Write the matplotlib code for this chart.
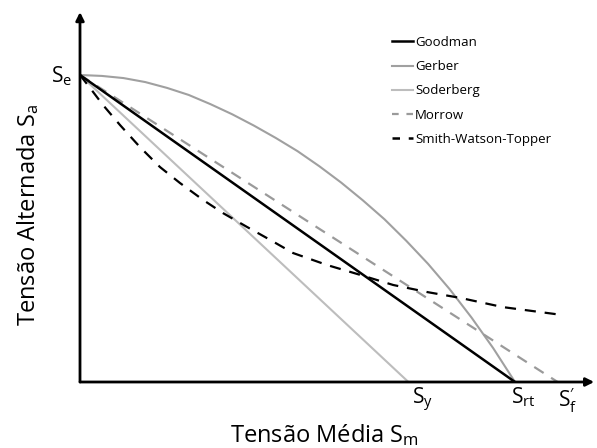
import matplotlib
matplotlib.use("Agg")
from matplotlib import pyplot as plt
from matplotlib.lines import Line2D

plt.rcParams['font.family'] = ['Open Sans', 'DejaVu Sans']
plt.rcParams['mathtext.fontset'] = 'custom'
plt.rcParams['mathtext.rm'] = 'Open Sans'
plt.rcParams['mathtext.it'] = 'Open Sans:italic'

# Sm / Srt on x, Sa / Se on y
Se = 1.0
Srt = 1.0
Sy = 0.755
Sf = 1.098

goodman_x = [0, Srt]
goodman_y = [Se, 0]

soderberg_x = [0, Sy]
soderberg_y = [Se, 0]

morrow_x = [0, Sf]
morrow_y = [Se, 0]

gerber_x = [0, 0.05, 0.1, 0.15, 0.2, 0.25, 0.3, 0.35, 0.4, 0.45, 0.5,
            0.55, 0.6, 0.65, 0.7, 0.75, 0.8, 0.85, 0.9, 0.95, 1.0]
gerber_y = [1.0, 0.997, 0.99, 0.977, 0.958, 0.935, 0.905, 0.872, 0.835, 0.795, 0.752,
            0.703, 0.65, 0.592, 0.53, 0.46, 0.385, 0.302, 0.21, 0.11, 0.0]

swt_x = [0, 0.023, 0.053, 0.092, 0.138, 0.184, 0.23, 0.283, 0.329, 0.384,
         0.437, 0.49, 0.568, 0.644, 0.72, 0.798, 0.874, 0.972, 1.11]
swt_y = [1.0, 0.958, 0.902, 0.837, 0.765, 0.70, 0.648, 0.593, 0.55, 0.505,
         0.463, 0.42, 0.381, 0.349, 0.316, 0.293, 0.274, 0.244, 0.218]

labels = ['Goodman', 'Gerber', 'Soderberg', 'Morrow', 'Smith-Watson-Topper']

W, H = 597, 448
fig = plt.figure(figsize=(W / 100, H / 100), dpi=100)
ax = fig.add_axes([80 / W, 66 / H, 517 / W, 372 / H])
ax.set_xlim(0, 517 / 435)
ax.set_ylim(0, 372 / 307)
ax.axis('off')

ax.plot(gerber_x, gerber_y, color='#a0a0a0', lw=1.5, solid_joinstyle='round')
ax.plot(soderberg_x, soderberg_y, color='#bdbdbd', lw=1.5)
ax.plot(morrow_x, morrow_y, color='#9a9a9a', lw=1.6, linestyle=(0, (5, 4)))
ax.plot(goodman_x, goodman_y, color='black', lw=1.8)
ax.plot(swt_x, swt_y, color='black', lw=1.6, linestyle=(0, (5, 4)))

# axes with arrows
ax.annotate('', xy=(0, 1.205), xytext=(0, 0),
            arrowprops=dict(arrowstyle='-|>', lw=2, color='black', mutation_scale=12,
                            shrinkA=0, shrinkB=0), annotation_clip=False)
ax.annotate('', xy=(1.182, 0), xytext=(0, 0),
            arrowprops=dict(arrowstyle='-|>', lw=2, color='black', mutation_scale=12,
                            shrinkA=0, shrinkB=0), annotation_clip=False)

ax.text(-0.018, 0.975, r'$\mathrm{S_e}$', ha='right', va='baseline', fontsize=15)
ax.text(Sy + 0.008, -0.012, r'$\mathrm{S_y}$', ha='left', va='top', fontsize=15)
ax.text(Srt - 0.01, -0.012, r'$\mathrm{S_{rt}}$', ha='left', va='top', fontsize=15)
ax.text(Sf, -0.012, r'$\mathrm{S_f^{\prime}}$', ha='left', va='top', fontsize=15)

fig.text(230 / W, 6 / H, r'Tensão Média $\mathrm{S_m}$', ha='left', va='baseline', fontsize=17)
fig.text(15 / W, 1 - 215 / H, r'Tensão Alternada $\mathrm{S_a}$', rotation=90,
         ha='left', va='center', fontsize=17)

handles = [
    Line2D([], [], color='black', lw=1.8),
    Line2D([], [], color='#a0a0a0', lw=1.5),
    Line2D([], [], color='#bdbdbd', lw=1.5),
    Line2D([], [], color='#9a9a9a', lw=1.6, linestyle=(0, (3, 3.5))),
    Line2D([], [], color='black', lw=1.8, linestyle=(0, (3, 3.5))),
]
ax.legend(handles, labels, loc='upper left', bbox_to_anchor=(392 / W, 1 - 36 / H),
          bbox_transform=fig.transFigure, frameon=False, borderpad=0, borderaxespad=0,
          handlelength=1.6, handletextpad=0.15, labelspacing=0.85, fontsize=9.5)

plt.savefig("out.png", dpi=100)
